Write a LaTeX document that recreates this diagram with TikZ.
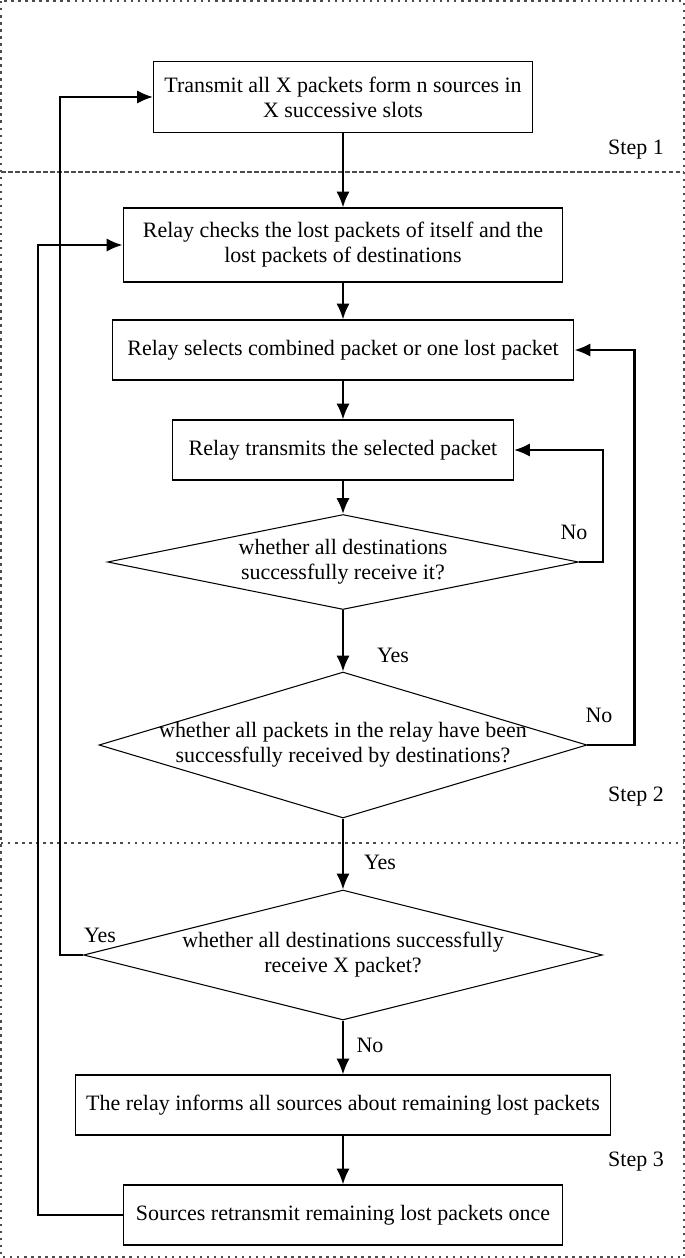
\documentclass[tikz,border=0pt]{standalone}
\usepackage{fontspec}
\setmainfont{Liberation Serif}
\usetikzlibrary{arrows.meta,shapes.geometric}
\tikzstyle{pb}=[draw,line width=0.6pt,align=center,inner sep=0pt,minimum height=1.2cm,font=\fontsize{12.5}{14.2}\selectfont]
\tikzstyle{dc}=[draw,diamond,line width=0.6pt,inner sep=0pt,aspect=1]
\tikzstyle{dt}=[align=center,font=\fontsize{12.5}{14.2}\selectfont]
\tikzstyle{lb}=[font=\fontsize{12.5}{14.2}\selectfont,inner sep=0pt]
\tikzstyle{sep}=[gray!60!black,line width=1pt]

\begin{document}
\begin{tikzpicture}[
      x=0.02cm,y=-0.02cm,
      >={Latex[length=9pt,width=7.5pt]},
      line width=1.2pt
    ]
     \useasboundingbox (0,0) rectangle (685,1258);
     % step borders
     \draw[sep,dash pattern=on 1.4pt off 2.6pt] (1,1) rectangle (684,1257);
     \draw[sep,dash pattern=on 2.6pt off 1.4pt] (1,172) -- (684,172);
     \draw[sep,dash pattern=on 1.4pt off 2.6pt] (1,843) -- (684,843);

     \node [pb,minimum width=7.58cm,minimum height=1.42cm] (n1) at (343,97) {Transmit all X packets form n sources in\\X successive slots};
     \node [pb,minimum width=8.8cm,minimum height=1.48cm] (n2) at (343,245) {Relay checks the lost packets of itself and the\\lost packets of destinations};
     \node [pb,minimum width=9.24cm] (n3) at (343,350) {Relay selects combined packet or one lost packet};
     \node [pb,minimum width=6.82cm] (n4) at (343,450) {Relay transmits the selected packet};
     \node [dc,minimum width=9.42cm,minimum height=1.9cm,label={[dt]center:whether all destinations\\successfully receive it?}] (d1) at (343,562) {};
     \node [dc,minimum width=9.76cm,minimum height=2.92cm,label={[dt]center:whether all packets in the relay have been\\successfully received by destinations?}] (d2) at (343,745) {};
     \node [dc,minimum width=10.38cm,minimum height=2.6cm,label={[dt]center:whether all destinations successfully\\receive X packet?}] (d3) at (343,955) {};
     \node [pb,minimum width=10.7cm] (n5) at (343,1105) {The relay informs all sources about remaining lost packets};
     \node [pb,minimum width=8.78cm] (n6) at (343,1215) {Sources retransmit remaining lost packets once};

     \node [lb] (no1) at (574,532) {No};
     \node [lb] (yes1) at (393,655) {Yes};
     \node [lb] (no2) at (599,715) {No};
     \node [lb] (yes2) at (380,862) {Yes};
     \node [lb] (yes3) at (100,935) {Yes};
     \node [lb] (no3) at (370,1045) {No};
     \node [lb] (s1) at (636,150) {Step 1};
     \node [lb] (s2) at (636,797) {Step 2};
     \node [lb] (s3) at (636,1162) {Step 3};

      \draw[->] (n1) -- (n2);
      \draw[->] (n2) -- (n3);
      \draw[->] (n3) -- (n4);
      \draw[->] (n4) -- (d1);
      \draw[->] (d1) -- (d2);
      \draw[->] (d2) -- (d3);
      \draw[->] (d3) -- (n5);
      \draw[->] (n5) -- (n6);
      \draw[->] (d1.east) -- ++(24,0) |- (n4.east);
      \draw[->] (d2.east) -- ++(47,0) |- (n3.east);
      \draw[->] (d3.west) -- ++(-23,0) |- (n1.west);
      \draw[->] (n6.west) -- ++(-85,0) |- (n2.west);
    \end{tikzpicture}
\end{document}
